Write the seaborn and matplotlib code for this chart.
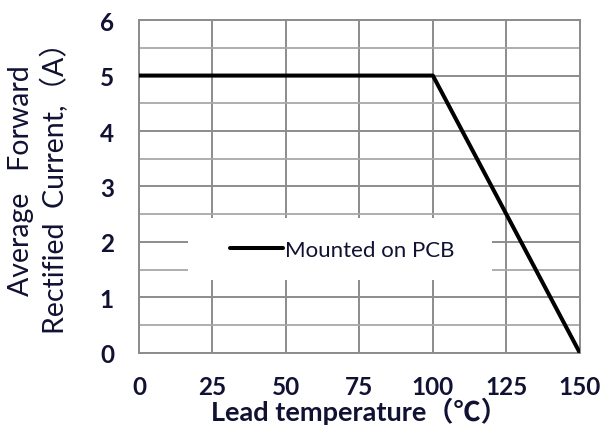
import matplotlib
matplotlib.use("Agg")
import matplotlib.pyplot as plt
import seaborn as sns
import pandas as pd
from matplotlib.patches import Rectangle

# derating curve
lead_temp = [0, 100, 150]
avg_current = [5, 5, 0]
x_ticks = [0, 25, 50, 75, 100, 125, 150]
y_ticks = [0, 1, 2, 3, 4, 5, 6]
series_label = "Mounted on PCB"

df = pd.DataFrame({"temp": lead_temp, "current": avg_current})

sns.set_style("white")
plt.rcParams["font.family"] = ["Lato", "Noto Sans CJK SC", "DejaVu Sans"]

fig = plt.figure(figsize=(6.04, 4.31), dpi=100)
ax = fig.add_axes([0.230, 0.179, 0.730, 0.772])

grid_c = "#8c8c8c"
txt_c = "#111133"
sns.lineplot(data=df, x="temp", y="current", color="black", linewidth=2.9,
             label=series_label, ax=ax, zorder=4)

ax.set_xlim(0, 150)
ax.set_ylim(0, 6)
ax.set_xticks(x_ticks)
ax.set_yticks(y_ticks)
ax.set_yticks([v + 0.5 for v in y_ticks[:-1]], minor=True)
ax.grid(True, which="major", color=grid_c, linewidth=1.4, zorder=1)
ax.grid(True, which="minor", axis="y", color="#a8a8a8", linewidth=1.3, zorder=1)
ax.set_axisbelow(True)
for s in ax.spines.values():
    s.set_color(grid_c)
    s.set_linewidth(1.4)

ax.tick_params(axis="both", which="major", direction="out", length=7, width=1.4,
               color=grid_c, labelsize=17.5, labelcolor=txt_c)
ax.tick_params(axis="y", which="major", pad=11)
ax.tick_params(axis="x", which="major", pad=9)
ax.tick_params(which="minor", length=0)
for t in ax.get_xticklabels() + ax.get_yticklabels():
    t.set_fontweight("bold")

ax.set_xlabel("Lead temperature（℃）", fontsize=19.5, fontweight="bold",
              color=txt_c, labelpad=-1)
ax.set_ylabel("Average   Forward\nRectified  Current,（A）", fontsize=20.5,
              color=txt_c, linespacing=1.3)
ax.yaxis.set_label_coords(-0.158, 0.52)

# white box behind the legend
ax.add_patch(Rectangle((0.111, 0.22), 0.689, 0.185, transform=ax.transAxes,
                       facecolor="white", edgecolor="none", zorder=2))
leg = ax.legend(loc="center", bbox_to_anchor=(0.461, 0.309), frameon=False,
                fontsize=16, handlelength=2.4, handletextpad=0.1)
for t in leg.get_texts():
    t.set_color(txt_c)

fig.savefig("out.png", dpi=100)
